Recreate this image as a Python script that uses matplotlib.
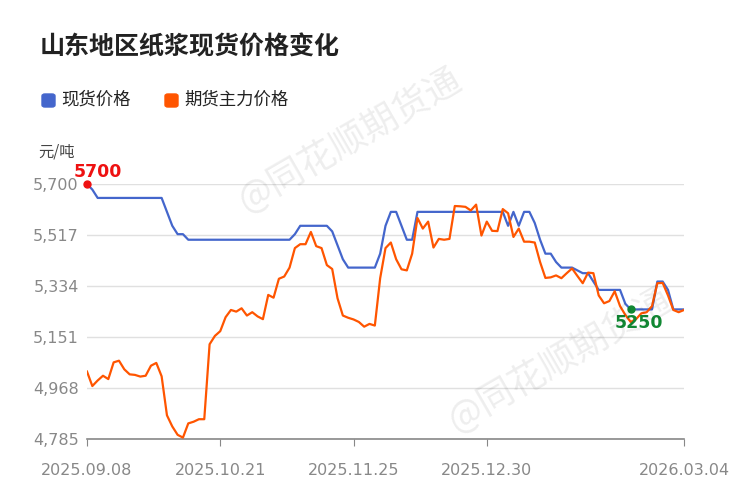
import matplotlib
matplotlib.use("Agg")
import matplotlib.pyplot as plt
from matplotlib.patches import FancyBboxPatch

plt.rcParams['font.family'] = ['Noto Sans CJK SC', 'DejaVu Sans']
NUM = ['DejaVu Sans']

title = "山东地区纸浆现货价格变化"
series_names = ["现货价格", "期货主力价格"]
date_labels = ["2025.09.08", "2025.10.21", "2025.11.25", "2025.12.30", "2026.03.04"]
date_idx = [0, 25, 50, 75, 112]
yticks = [4785, 4968, 5151, 5334, 5517, 5700]

spot = [5700, 5680] + [5650]*13 + [5600, 5550, 5520, 5520] + [5500]*20 + \
       [5520] + [5550]*6 + [5530, 5480, 5430] + [5400]*6 + \
       [5450, 5550, 5600, 5600, 5550, 5500, 5500] + [5600]*17 + \
       [5550, 5600, 5550, 5600, 5600, 5560, 5500, 5450, 5450, 5420, 5400, 5400, 5400,
        5390, 5380, 5380, 5350, 5320, 5320, 5320, 5320, 5320, 5270, 5250, 5250, 5250,
        5250, 5250, 5350, 5350, 5320, 5250, 5250, 5250]

futures = [5027, 4975, 4995, 5012, 5000, 5060, 5066, 5035, 5017, 5015, 5009, 5012, 5048,
           5058, 5010, 4870, 4830, 4800, 4790, 4841, 4847, 4856, 4856, 5125, 5155, 5172,
           5222, 5248, 5242, 5254, 5228, 5240, 5225, 5215, 5302, 5292, 5360, 5368, 5400,
           5470, 5484, 5484, 5528, 5477, 5470, 5409, 5395, 5290, 5228, 5220, 5214, 5205,
           5188, 5198, 5192, 5362, 5470, 5490, 5430, 5394, 5390, 5450, 5578, 5540, 5565,
           5472, 5503, 5500, 5503, 5621, 5620, 5618, 5605, 5626, 5515, 5565, 5532, 5531,
           5610, 5595, 5510, 5540, 5493, 5493, 5490, 5420, 5363, 5365, 5372, 5362, 5380,
           5397, 5370, 5344, 5382, 5380, 5300, 5272, 5280, 5315, 5262, 5230, 5205, 5215,
           5236, 5240, 5262, 5344, 5345, 5300, 5248, 5240, 5248]

blue = "#4466cc"
orange = "#ff5500"

fig = plt.figure(figsize=(7.35, 5.0), dpi=100)
ax = fig.add_axes([87/735, 61/500, 597/735, 255/500])
ax.plot(range(len(spot)), spot, color=blue, lw=1.6, zorder=3)
ax.plot(range(len(futures)), futures, color=orange, lw=1.6, zorder=3)
ax.set_xlim(0, 112)
ax.set_ylim(4785, 5700)
ax.set_yticks(yticks)
ax.set_yticklabels([f"{v:,}" for v in yticks], color="#888888", fontsize=11.5, family=NUM)
ax.set_xticks(date_idx)
ax.set_xticklabels(date_labels, color="#888888", fontsize=11.5, family=NUM)
ax.tick_params(axis='y', length=0, pad=6)
ax.tick_params(axis='x', length=5, color="#888888", pad=12)
ax.grid(axis='y', color="#e0e0e0", lw=1)
for s in ['top', 'right', 'left']:
    ax.spines[s].set_visible(False)
ax.spines['bottom'].set_color("#888888")
ax.spines['bottom'].set_linewidth(1.2)

imax = spot.index(max(spot))
imin = spot.index(min(spot))
ax.plot(imax, spot[imax], 'o', color="#ee1111", ms=5, zorder=4, clip_on=False)
ax.text(imax - 2.5, spot[imax] + 12, f"{spot[imax]}", color="#ee1111", fontsize=12.5,
        fontweight='bold', va='bottom', ha='left', family=NUM)
ax.plot(imin, spot[imin], 'o', color="#118833", ms=5, zorder=4)
ax.text(imin + 1.5, spot[imin] - 18, f"{spot[imin]}", color="#118833", fontsize=12.5,
        fontweight='bold', va='top', ha='center', family=NUM)

fig.text(40/735, 1 - 47/500, title, fontsize=18, fontweight='bold', va='center', color="#222222")
for lx, name, c in [(42, series_names[0], blue), (165, series_names[1], orange)]:
    fig.patches.append(FancyBboxPatch((lx/735, 1 - 107/500), 13/735, 13/500,
                                      boxstyle="round,pad=0,rounding_size=0.004",
                                      transform=fig.transFigure, color=c))
    fig.text((lx + 19)/735, 1 - 100/500, name, fontsize=12.5, va='center', color="#222222")
fig.text(38/735, 1 - 152/500, "元/吨", fontsize=11, va='center', color="#444444")

fig.text(350/735, 1 - 140/500, "@同花顺期货通", fontsize=26, color="#000000", alpha=0.07,
         rotation=30, ha='center', va='center')
fig.text(560/735, 1 - 360/500, "@同花顺期货通", fontsize=26, color="#000000", alpha=0.07,
         rotation=30, ha='center', va='center')

fig.savefig("out.png", dpi=100)
